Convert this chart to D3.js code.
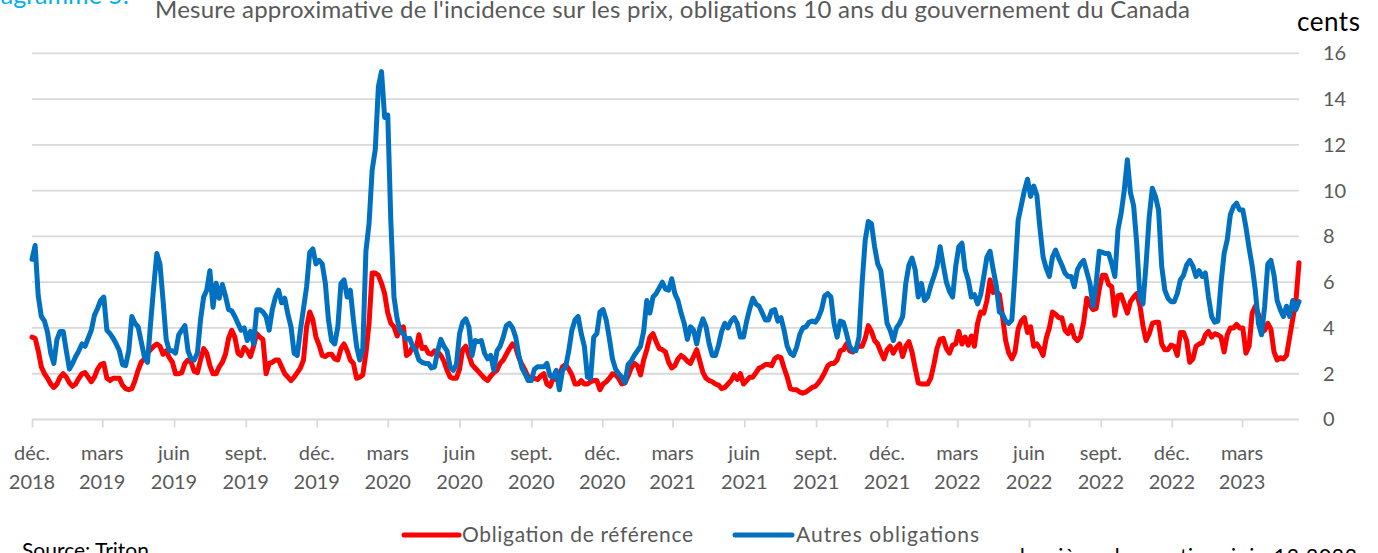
<!DOCTYPE html>
<html>
<head>
<meta charset="utf-8">
<script src="https://cdn.jsdelivr.net/npm/d3@7"></script>
<style>
  body { margin: 0; background: #fff; }
  svg { display: block; }
  text { font-family: Lato, "Open Sans", sans-serif; }
</style>
</head>
<body>
<svg id="chart" width="1378" height="553"></svg>
<script>
/// data ///
// one observation every 4 days from Dec 1 2018
const startDate = "2018-12-01";
const stepDays = 4;

// Obligation de référence (red), cents
const refValues = [
  3.6,3.55,3.0,2.3,2.0,1.8,1.55,1.4,1.55,1.85,
  2.0,1.85,1.6,1.45,1.55,1.8,2.0,2.05,1.85,1.65,
  1.85,2.2,2.4,2.45,1.8,1.7,1.8,1.8,1.8,1.5,
  1.35,1.3,1.35,1.7,2.15,2.5,2.65,2.9,3.05,3.2,
  3.3,3.2,2.85,3.0,2.7,2.5,2.0,2.0,2.05,2.45,
  2.6,2.5,2.1,2.05,2.6,3.1,2.9,2.35,2.0,2.0,
  2.3,2.5,2.85,3.55,3.9,3.6,2.9,2.8,3.15,3.0,
  2.75,3.2,3.75,3.6,3.5,2.0,2.45,2.5,2.6,2.6,
  2.3,2.0,1.85,1.7,1.85,2.05,2.25,2.6,4.05,4.7,
  4.35,3.6,3.25,2.8,2.75,2.85,2.85,2.65,2.6,3.1,
  3.3,3.0,2.6,2.45,1.8,1.85,1.95,2.9,4.2,6.4,
  6.4,6.3,5.95,5.5,4.65,4.2,4.05,3.65,3.9,4.05,
  2.8,2.9,3.2,3.05,3.7,3.1,3.15,2.9,2.85,3.0,
  2.95,2.8,2.55,2.15,1.85,1.8,1.8,2.2,3.05,3.2,
  2.8,2.4,2.25,2.1,1.95,1.8,1.7,1.9,2.05,2.15,
  2.45,2.6,2.85,3.1,3.3,3.15,2.7,2.4,2.15,1.85,
  1.8,1.8,1.75,1.9,2.0,1.55,1.45,1.8,1.75,1.95,
  2.3,2.4,2.2,1.95,1.55,1.55,1.7,1.55,1.55,1.65,
  1.7,1.7,1.3,1.55,1.65,1.8,2.0,1.95,1.8,1.55,
  1.6,1.9,2.25,2.45,2.35,1.95,2.6,3.05,3.6,3.75,
  3.4,3.1,3.05,2.95,2.5,2.25,2.35,2.65,2.8,2.7,
  2.55,2.45,2.75,3.05,2.55,2.05,1.8,1.7,1.65,1.55,
  1.5,1.35,1.4,1.55,1.7,1.95,1.75,2.0,1.55,1.7,
  1.85,1.85,2.05,2.25,2.3,2.4,2.4,2.35,2.65,2.75,
  2.7,2.25,1.85,1.35,1.3,1.3,1.2,1.15,1.2,1.3,
  1.4,1.45,1.6,1.8,2.05,2.35,2.45,2.45,2.6,3.0,
  3.05,3.3,3.0,2.95,3.1,3.2,3.2,3.55,4.1,3.85,
  3.45,3.3,2.95,2.65,3.05,3.2,2.9,3.15,3.3,2.75,
  3.2,3.4,2.95,2.25,1.6,1.55,1.55,1.55,1.8,2.4,
  3.1,3.5,3.55,3.1,2.9,3.25,3.3,3.85,3.3,3.6,
  3.25,3.65,3.2,4.2,4.7,4.65,5.2,6.1,5.55,5.6,
  5.45,4.5,3.45,2.9,2.65,2.95,3.95,4.3,4.45,3.8,
  4.05,3.2,3.3,3.1,2.8,3.55,4.0,4.7,4.6,4.45,
  4.45,3.9,3.75,4.1,3.6,3.45,3.6,4.25,5.3,5.0,
  4.8,4.85,5.7,6.3,6.3,5.9,5.8,4.55,5.4,5.45,
  5.05,4.65,5.15,5.35,5.5,5.0,4.1,3.45,3.75,4.2,
  4.25,4.25,3.3,3.05,3.05,3.25,3.2,2.8,3.8,3.8,
  3.45,2.5,2.65,3.2,3.3,3.35,3.7,3.85,3.6,3.75,
  3.7,3.6,2.95,3.7,4.0,4.0,4.15,4.0,4.0,2.9,
  3.2,4.65,4.95,4.6,3.8,3.9,4.2,3.95,2.95,2.6,
  2.7,2.65,2.8,3.6,4.4,5.15,6.85
];

// Autres obligations (blue), cents
const otherValues = [
  7.0,7.6,5.4,4.5,4.3,3.8,2.9,2.45,3.5,3.85,
  3.85,3.0,2.2,2.45,2.75,3.0,3.3,3.2,3.55,3.9,
  4.55,4.85,5.2,5.35,3.9,3.75,3.55,3.3,3.0,2.4,
  2.35,3.0,4.5,4.2,4.05,3.4,2.75,2.5,4.2,5.8,
  7.25,6.8,5.2,3.5,3.0,3.0,2.9,3.7,3.9,4.1,
  3.0,2.65,2.6,2.9,4.35,5.35,5.65,6.5,4.9,5.95,
  5.3,5.9,5.4,4.8,4.75,4.5,4.2,3.9,4.0,3.45,
  3.85,3.3,4.8,4.8,4.7,4.5,3.9,4.8,5.35,5.65,
  5.1,5.3,4.6,4.05,2.9,2.8,3.9,4.85,5.8,7.3,
  7.45,6.8,6.95,6.8,5.95,4.35,3.45,3.3,4.05,5.95,
  6.1,5.35,5.65,4.35,3.2,2.6,3.1,7.35,8.55,10.9,
  11.8,14.55,15.2,13.2,13.3,8.6,5.35,4.4,3.85,3.75,
  3.5,3.55,3.2,3.0,2.6,2.5,2.45,2.45,2.25,2.3,
  3.0,3.5,3.2,3.0,2.3,2.15,2.4,3.75,4.25,4.4,
  4.05,2.8,3.45,3.4,3.45,2.9,2.65,2.8,2.15,3.0,
  3.2,3.6,4.1,4.2,4.0,3.6,2.8,2.25,2.0,1.7,
  1.7,2.2,2.3,2.3,2.3,2.45,1.9,1.85,2.15,1.3,
  2.15,2.3,3.0,3.9,4.35,4.5,3.75,3.2,1.85,1.8,
  3.6,3.75,4.7,4.8,4.35,3.55,2.65,2.2,2.0,1.85,
  1.6,2.4,2.55,2.8,3.0,3.2,3.85,5.2,4.65,5.35,
  5.5,5.75,6.0,5.7,5.65,6.15,5.5,5.2,4.65,4.2,
  3.5,4.05,3.9,3.3,4.0,4.4,4.05,3.3,2.8,2.8,
  3.25,3.85,4.2,4.0,4.3,4.45,4.2,3.6,3.6,4.3,
  4.85,5.3,5.05,4.95,4.65,4.35,4.35,4.75,4.8,4.3,
  4.45,3.9,3.2,2.9,2.8,3.15,3.7,4.0,4.05,4.25,
  4.3,4.25,4.45,4.8,5.4,5.5,5.35,4.2,3.6,4.3,
  4.25,3.75,3.2,3.0,3.0,3.6,5.95,7.85,8.65,8.55,
  7.55,6.8,6.5,5.35,4.2,3.9,3.45,4.0,4.2,4.5,
  5.95,6.75,7.05,6.55,5.35,5.95,5.2,5.35,5.85,6.25,
  6.7,7.55,6.75,6.0,5.6,5.35,6.7,7.55,7.7,6.55,
  6.1,5.35,5.45,5.05,5.45,6.25,7.1,7.35,6.55,5.85,
  4.7,4.6,4.3,4.2,4.35,6.4,8.7,9.35,10.0,10.5,
  9.75,10.2,9.8,8.35,7.1,6.6,6.25,7.1,7.4,7.05,
  6.75,6.4,6.25,6.25,5.8,6.55,6.8,6.95,6.45,5.95,
  4.95,5.95,7.35,7.3,7.25,7.25,6.8,6.25,8.3,9.0,
  10.0,11.35,9.9,9.35,7.7,5.35,5.05,6.8,8.85,10.1,
  9.75,9.15,6.7,5.65,5.3,5.15,5.15,5.5,6.1,6.3,
  6.75,6.95,6.7,6.25,6.5,6.25,6.4,5.35,4.5,4.25,
  4.3,5.95,7.25,7.85,8.95,9.3,9.45,9.15,9.15,8.4,
  7.5,6.7,5.65,4.2,3.7,4.95,6.8,6.95,6.3,5.2,
  4.8,4.5,4.95,4.5,5.2,4.8,5.15
];

const yTicks = [0, 2, 4, 6, 8, 10, 12, 14, 16];
// French month abbreviations used on the axis (by month index)
const monthNames = { 2: "mars", 5: "juin", 8: "sept.", 11: "déc." };

const seriesNames = ["Obligation de référence", "Autres obligations"];
const titleText = "Mesure approximative de l'incidence sur les prix, obligations 10 ans du gouvernement du Canada";

/// constants ///
const margin = { left: 32, right: 1299, top: 53.3, bottom: 419.5 };
const redColour = "#ff0000";
const blueColour = "#0070c0";
const gridColour = "#d9d9d9";
const textColour = "#595959";

const svg = d3.select("#chart");
const parse = d3.timeParse("%Y-%m-%d");
const start = parse(startDate);

const toPoints = vals => vals.map((v, i) => ({ date: d3.timeDay.offset(start, i * stepDays), value: v }));
const refData = toPoints(refValues);
const otherData = toPoints(otherValues);
const end = d3.max([refData[refData.length - 1].date, otherData[otherData.length - 1].date]);

/// scales ///
const x = d3.scaleTime().domain([start, end]).range([margin.left, margin.right]);
const y = d3.scaleLinear().domain([0, 16]).range([margin.bottom, margin.top]);

// gridlines
svg.append("g")
  .selectAll("line")
  .data(yTicks)
  .join("line")
    .attr("x1", margin.left)
    .attr("x2", margin.right)
    .attr("y1", d => y(d))
    .attr("y2", d => y(d))
    .attr("stroke", gridColour)
    .attr("stroke-width", 1.8);

// x axis : a tick every quarter (dec, mar, jun, sep)
const tickDates = d3.timeMonth.range(start, d3.timeDay.offset(end, 1)).filter(d => d.getMonth() % 3 === 2);

svg.append("g")
  .attr("transform", `translate(0, ${margin.bottom})`)
  .call(d3.axisBottom(x).tickValues(tickDates).tickSize(8).tickFormat(""))
  .call(g => g.select(".domain").remove())
  .call(g => g.selectAll(".tick line").attr("stroke", gridColour).attr("stroke-width", 1.8));

const xLabels = svg.append("g")
  .selectAll("text")
  .data(tickDates)
  .join("text")
    .attr("text-anchor", "middle")
    .attr("fill", textColour)
    .attr("font-size", "20px");
xLabels.append("tspan")
  .attr("x", d => x(d))
  .attr("y", 460)
  .text(d => monthNames[d.getMonth()]);
xLabels.append("tspan")
  .attr("x", d => x(d))
  .attr("y", 489)
  .text(d => d.getFullYear());

// y axis on the right
svg.append("g")
  .attr("transform", `translate(1323, 0)`)
  .call(d3.axisRight(y).tickValues(yTicks).tickSize(0).tickPadding(0))
  .call(g => g.select(".domain").remove())
  .call(g => g.selectAll("text")
    .attr("fill", textColour)
    .attr("font-size", "20px")
    .attr("font-family", "Lato, sans-serif")
    .attr("text-anchor", "start"));

/// lines ///
const line = d3.line()
  .x(d => x(d.date))
  .y(d => y(d.value));

svg.append("path")
  .datum(refData)
  .attr("d", line)
  .attr("fill", "none")
  .attr("stroke", redColour)
  .attr("stroke-width", 5)
  .attr("stroke-linejoin", "round")
  .attr("stroke-linecap", "round");

svg.append("path")
  .datum(otherData)
  .attr("d", line)
  .attr("fill", "none")
  .attr("stroke", blueColour)
  .attr("stroke-width", 5)
  .attr("stroke-linejoin", "round")
  .attr("stroke-linecap", "round");

/// texts ///
svg.append("text")
  .attr("x", 129).attr("y", 4)
  .attr("text-anchor", "end")
  .attr("fill", "#00b0f0")
  .attr("font-size", "25px")
  .text("Diagramme 5:");

svg.append("text")
  .attr("x", 155).attr("y", 18)
  .attr("fill", textColour)
  .attr("font-size", "24px")
  .attr("textLength", 1035)
  .text(titleText);

svg.append("text")
  .attr("x", 1297).attr("y", 31)
  .attr("fill", "#000")
  .attr("font-size", "26px")
  .attr("textLength", 63)
  .text("cents");

// legend
const legend = [
  { name: seriesNames[0], colour: redColour, x1: 404, x2: 459, tx: 462, len: 231 },
  { name: seriesNames[1], colour: blueColour, x1: 735, x2: 792, tx: 796, len: 183 }
];
const legendG = svg.append("g");
legendG.selectAll("line")
  .data(legend)
  .join("line")
    .attr("x1", d => d.x1).attr("x2", d => d.x2)
    .attr("y1", 535).attr("y2", 535)
    .attr("stroke", d => d.colour)
    .attr("stroke-width", 5)
    .attr("stroke-linecap", "round");
legendG.selectAll("text")
  .data(legend)
  .join("text")
    .attr("x", d => d.tx).attr("y", 542)
    .attr("fill", textColour)
    .attr("font-size", "21px")
    .attr("textLength", d => d.len)
    .text(d => d.name);

svg.append("text")
  .attr("x", 22).attr("y", 558)
  .attr("fill", "#000")
  .attr("font-size", "21px")
  .text("Source: Triton");

svg.append("text")
  .attr("x", 1013).attr("y", 564)
  .attr("fill", "#000")
  .attr("font-size", "21px")
  .attr("textLength", 344)
  .text("dernière observation: juin 13 2023");
</script>
</body>
</html>
